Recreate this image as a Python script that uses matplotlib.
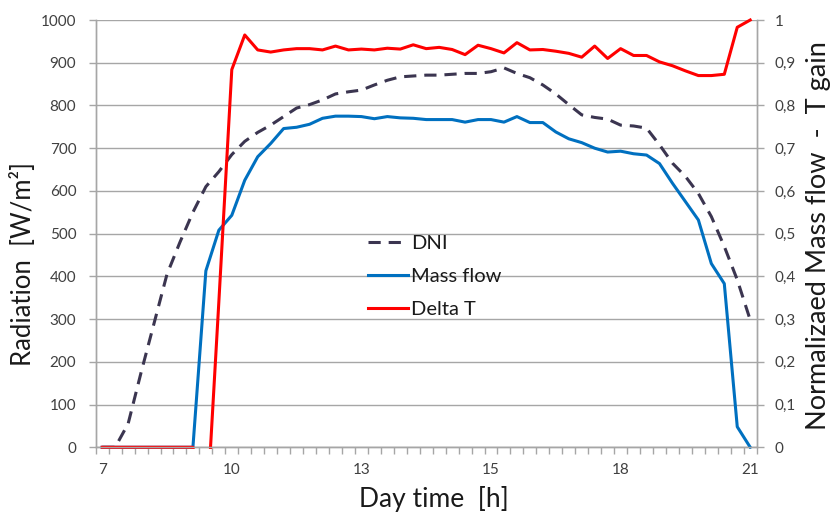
import numpy as np
import matplotlib
matplotlib.use("Agg")
import matplotlib.pyplot as plt
from matplotlib.patches import Rectangle

plt.rcParams["font.family"] = ["Lato", "DejaVu Sans"]

# ===============================
# Data, 51 time steps from 7 h to 21 h
# ===============================
tick_pos = [0, 10, 20, 30, 40, 50]
tick_labels = ["7", "10", "13", "15", "18", "21"]

dni = [0, 0, 55, 175, 290, 405, 480, 550, 610, 645,
       685, 716, 737, 754, 774, 794, 802, 813, 827, 832,
       836, 848, 859, 867, 869, 871, 871, 873, 875, 875,
       879, 888, 875, 865, 848, 827, 802, 778, 772, 768,
       754, 752, 747, 708, 665, 634, 594, 540, 470, 392,
       298]

mass_flow = [0, 0, 0, 0, 0, 0, 0, 0, 0.413, 0.508,
             0.543, 0.625, 0.680, 0.711, 0.746, 0.749, 0.756, 0.770, 0.775, 0.775,
             0.774, 0.769, 0.774, 0.771, 0.770, 0.767, 0.767, 0.767, 0.761, 0.767,
             0.767, 0.761, 0.774, 0.760, 0.760, 0.738, 0.722, 0.713, 0.700, 0.691,
             0.693, 0.687, 0.684, 0.664, 0.618, 0.575, 0.532, 0.430, 0.383, 0.048,
             0.0]

delta_t = [0, 0, 0, 0, 0, 0, 0, 0, -0.19, 0.34,
           0.884, 0.965, 0.930, 0.925, 0.930, 0.933, 0.933, 0.930, 0.939, 0.930,
           0.932, 0.930, 0.934, 0.932, 0.942, 0.933, 0.936, 0.931, 0.919, 0.941,
           0.933, 0.923, 0.947, 0.930, 0.931, 0.927, 0.922, 0.913, 0.939, 0.910,
           0.933, 0.917, 0.917, 0.902, 0.893, 0.881, 0.870, 0.870, 0.873, 0.983,
           1.0]

x = np.arange(len(dni))

# ===============================
# Plot
# ===============================
fig = plt.figure(figsize=(8.33, 5.12), dpi=100)
ax = fig.add_axes([0.1149, 0.1264, 0.7935, 0.8345])
ax2 = ax.twinx()

grid_c = "#a6a6a6"
txt_c = "#404040"

l_dni, = ax.plot(x, dni, color="#3b3550", lw=2.2, dashes=(4, 2.6), label="DNI")
l_mf, = ax2.plot(x, mass_flow, color="#0070c0", lw=2.2, label="Mass flow")
l_dt, = ax2.plot(x, delta_t, color="#ff0000", lw=2.2, label="Delta T")

for ln in (l_mf, l_dt):
    clip = Rectangle((-0.01, -0.005), 1.02, 1.012, transform=ax2.transAxes,
                     facecolor="none", edgecolor="none")
    ln.set_clip_path(clip)

ax.set_xlim(-0.5, 50.5)
ax.set_ylim(0, 1000)
ax2.set_ylim(0, 1)

ax.set_yticks(np.arange(0, 1001, 100))
ax2.set_yticks(np.arange(0, 1.01, 0.1))
ax2.set_yticklabels(["0"] + ["0,%d" % i for i in range(1, 10)] + ["1"])

ax.set_xticks(tick_pos)
ax.set_xticklabels(tick_labels)
ax.set_xticks(np.arange(-0.5, 51, 1), minor=True)
ax.tick_params(axis="x", which="major", length=0, pad=11, labelsize=11, labelcolor=txt_c)
ax.tick_params(axis="x", which="minor", length=5, width=1, color=grid_c)
ax.tick_params(axis="y", length=5, width=1, color=grid_c, labelsize=11, labelcolor=txt_c, pad=9)
ax2.tick_params(axis="y", length=5, width=1, color=grid_c, labelsize=11, labelcolor=txt_c, pad=8)

ax.grid(axis="y", color=grid_c, lw=1)
ax.set_axisbelow(True)

for a in (ax, ax2):
    a.spines["top"].set_visible(False)
    for s in ("left", "right", "bottom"):
        a.spines[s].set_color(grid_c)
        a.spines[s].set_linewidth(1)

ax.set_xlabel("Day time  [h]", fontsize=19, color="#1a1a1a")
ax.xaxis.set_label_coords(0.512, -0.09)
ax.set_ylabel("Radiation  [W/m²]", fontsize=18.5, color="#1a1a1a")
ax.yaxis.set_label_coords(-0.09, 0.43)
ax2.set_ylabel("Normalizaed Mass flow  -  T gain", fontsize=19.5, color="#1a1a1a")
ax2.yaxis.set_label_coords(1.075, 0.495)

ax2.legend(handles=[l_dni, l_mf, l_dt], loc="upper left", bbox_to_anchor=(0.39, 0.53),
           frameon=False, fontsize=14.5, handlelength=2.0, handletextpad=0.15,
           labelspacing=0.78, borderpad=0.2, labelcolor="#1a1a1a")

fig.savefig("out.png", dpi=100)
